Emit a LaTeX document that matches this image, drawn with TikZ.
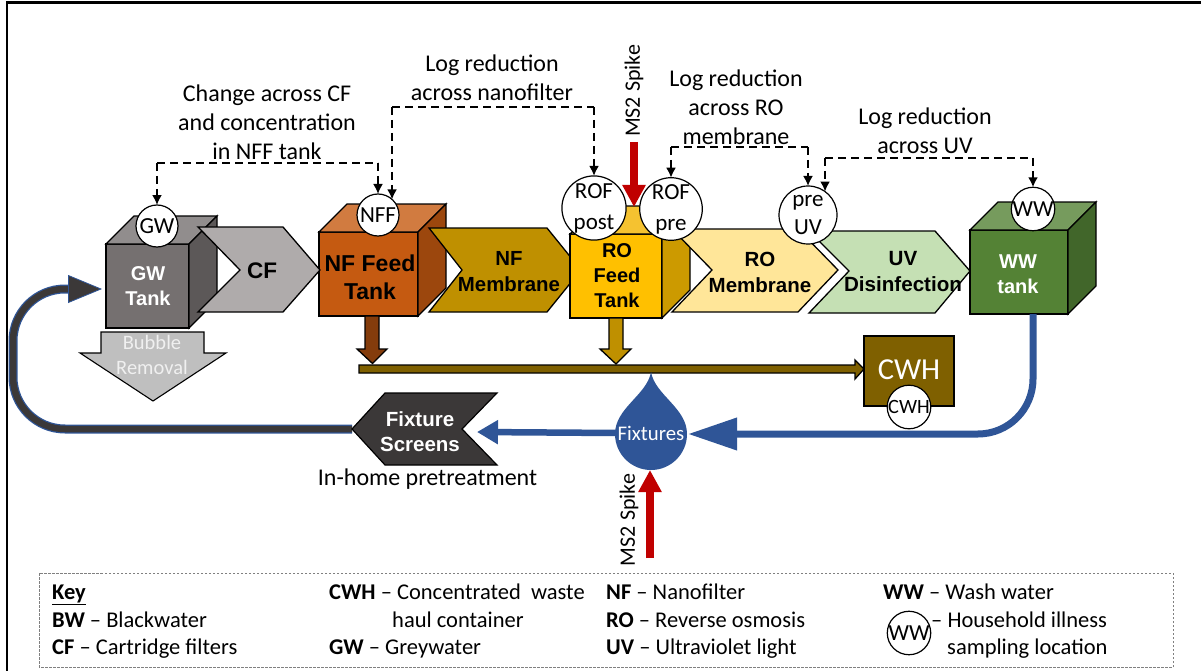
\documentclass[tikz,border=0pt]{standalone}
\usepackage{fontspec}
\setmainfont{Carlito}
\newfontfamily\arialf{Liberation Sans}
\usetikzlibrary{arrows.meta,calc}
\definecolor{pipeblue}{HTML}{2F5597}
\definecolor{spikered}{HTML}{C00000}
\definecolor{waste}{HTML}{7F6000}
\definecolor{darkg}{HTML}{3B3838}
\definecolor{gwfront}{HTML}{757070}
\definecolor{gwtop}{HTML}{918D8D}
\definecolor{gwside}{HTML}{5C5858}
\definecolor{cfcol}{HTML}{AFABAB}
\definecolor{nffront}{HTML}{C55A11}
\definecolor{nftop}{HTML}{D17B40}
\definecolor{nfside}{HTML}{9C470D}
\definecolor{nfmem}{HTML}{BF9000}
\definecolor{nfdrain}{HTML}{843C0C}
\definecolor{rofront}{HTML}{FFC000}
\definecolor{rotop}{HTML}{F5C230}
\definecolor{roside}{HTML}{CC9A00}
\definecolor{romem}{HTML}{FFE699}
\definecolor{uvcol}{HTML}{C5E0B4}
\definecolor{wwfront}{HTML}{548235}
\definecolor{wwtop}{HTML}{769B5D}
\definecolor{wwside}{HTML}{41662A}
\definecolor{bubble}{HTML}{BFBFBF}
\definecolor{bubbletext}{HTML}{F0F0F0}
\newcommand{\fs}[2]{\fontsize{#1}{#2}\selectfont}
\newcommand{\cubefaces}[3]{%
  \draw[edge,fill=#2] (#1.north west) -- ([shift={(28,-28)}]#1.north west) -- ([shift={(28,-28)}]#1.north east) -- (#1.north east) -- cycle;
  \draw[edge,fill=#3] (#1.north east) -- ([shift={(28,-28)}]#1.north east) -- ([shift={(28,-28)}]#1.south east) -- (#1.south east) -- cycle;
}
\tikzset{
  x=1pt,y=-1pt,
  edge/.style={draw=black,line width=1.3pt,line join=miter},
  front/.style={edge,inner sep=0pt,outer sep=0pt,align=center},
  boldlab/.style={inner sep=0pt,align=center,text=black},
  probe/.style={circle,draw=black,fill=white,line width=1.2pt,inner sep=0pt,outer sep=0pt,align=center,text=black},
  smallprobe/.style={probe,minimum size=42pt,font=\fs{23}{23}},
  bigprobe/.style={probe,minimum size=58pt,font=\fs{23}{31}},
  dashline/.style={draw=black,line width=1.9pt,dash pattern=on 8pt off 5pt,-{Latex[length=10pt,width=10pt]}},
  note/.style={inner sep=0pt,align=center,text=black,font=\fs{24}{29.2}},
  keytext/.style={inner sep=0pt,anchor=base west,text=black,font=\fs{22.5}{27}},
  pipe/.style={draw=pipeblue,line width=7pt},
  spike/.style={draw=spikered,line width=7.5pt,-{Triangle[length=22pt,width=22pt]}},
}
\begin{document}
\begin{tikzpicture}
\useasboundingbox (0,0) rectangle (1201,671);
\fill[white] (0,0) rectangle (1201,671);
\draw[black,line width=2.5pt] (1201,2.5) -- (7,2.5) -- (7,671);

% free ends
\coordinate (loopA) at (13,429);
\coordinate (loopB) at (13,289);
\coordinate (fxtip) at (352,429);
\coordinate (fxnotch) at (477,432);
\coordinate (spk1a) at (634,142);
\coordinate (spk1b) at (634,207);
\coordinate (spk2a) at (650,558);
\coordinate (pipeC) at (1033,434);
\coordinate (dropE) at (688,434);
\coordinate (dropW) at (617,433);
\coordinate (dropS) at (650,470);
\coordinate (gwin) at (102,289);
\coordinate (gwin2) at (70,289);

% loop from fixture screens to GW tank
\draw[draw=pipeblue,line width=9pt,rounded corners=52pt] (fxtip) -- (loopA) -- (loopB) -- (gwin2);
\draw[draw=darkg,line width=6.5pt,rounded corners=52pt,-{Triangle[length=34pt,width=28pt,fill=darkg,color=pipeblue,line width=0.8pt]}] (fxtip) -- (loopA) -- (loopB) -- (gwin);

% tanks and chevrons, back to front
\node[front,fill=gwfront,minimum width=83pt,minimum height=84pt] (gwt) at (147.5,286) {};
\cubefaces{gwt}{gwtop}{gwside}
\node[front,fill=nffront,minimum width=99pt,minimum height=84pt] (nft) at (368.5,274) {};
\cubefaces{nft}{nftop}{nfside}
\draw[edge,fill=cfcol] (198,227) -- (283,227) -- (320,270) -- (283,312) -- (198,312) -- (240,270) -- cycle;
\draw[edge,fill=nfmem] (429,228) -- (547,228) -- (581,270) -- (547,312) -- (429,312) -- (462,270) -- cycle;
\node[front,fill=rofront,minimum width=92pt,minimum height=84pt] (rot) at (616,276) {};
\cubefaces{rot}{rotop}{roside}
\draw[edge,fill=romem] (672,229) -- (798,229) -- (838,270) -- (798,312) -- (672,312) -- (712,270) -- cycle;
\draw[edge,fill=uvcol] (809,231) -- (935,231) -- (970,271) -- (935,313) -- (809,313) -- (849,271) -- cycle;
\node[front,fill=wwfront,minimum width=98pt,minimum height=84pt] (wwt) at (1019,272) {};
\cubefaces{wwt}{wwtop}{wwside}

% tank and chevron labels
\node[boldlab,text=white,font=\arialf\bfseries\fs{20}{25}] (gwl) at (148,286) {GW\\Tank};
\node[boldlab,font=\arialf\bfseries\fs{23}{28}] (nfl) at (370,277) {NF Feed\\Tank};
\node[boldlab,font=\arialf\bfseries\fs{20}{25}] (rol) at (617,276) {RO\\Feed\\Tank};
\node[boldlab,text=white,font=\arialf\bfseries\fs{20}{25}] (wwl) at (1018,274.5) {WW\\tank};
\node[boldlab,font=\arialf\bfseries\fs{22.5}{25}] (cfl) at (262,271) {CF};
\node[boldlab,font=\arialf\bfseries\fs{20.4}{26}] (nfml) at (509,272) {NF\\Membrane};
\node[boldlab,font=\arialf\bfseries\fs{20.5}{26}] (roml) at (760,272) {RO\\Membrane};
\node[boldlab,font=\arialf\bfseries\fs{20.6}{26}] (uvl) at (903,272) {UV\\Disinfection};

% drains and manifold
\draw[edge,fill=nfdrain] ([xshift=-3.5pt]nft.south) -- ++(0,33) -- ++(-8,0) -- ++(15.5,14.5) -- ++(14.5,-14.5) -- ++(-8,0) -- ++(0,-33) -- cycle;
\draw[edge,fill=nfmem] (rot.south) ++(-7,0) -- ++(0,31) -- ++(-9,0) -- ++(16,15) -- ++(15,-15) -- ++(-8,0) -- ++(0,-31) -- cycle;
\coordinate (bar) at (359,365);
\node[edge,fill=waste,inner sep=0pt,outer sep=0pt,minimum width=90pt,minimum height=70pt] (cwh) at (909,371) {};
\draw[edge,fill=waste] (bar) -- ++(496,0) -- ++(0,-5) -- (cwh.west |- 0,369) -- ++(-9,10) -- ++(0,-6) -- ++(-496,0) -- cycle;
\node[inner sep=0pt,text=white,font=\fs{30.5}{30}] (cwhl) at (909,370) {CWH};

% bubble removal
\draw[edge,fill=bubble,line width=1.1pt] ([shift={(-46.5,4)}]gwt.south) -- ++(103,0) -- ++(0,21) -- ++(22,0) -- ++(-73,48) -- ++(-73,-48) -- ++(21,0) -- cycle;
\node[inner sep=0pt,align=center,text=bubbletext,font=\fs{20.5}{25}] (bubl) at (152,355) {Bubble\\Removal};

% water distribution
\draw[pipe,rounded corners=55pt,-{Triangle[length=49pt,width=31pt]}] ([xshift=14pt]wwt.south) -- (pipeC) -- (dropE);
\draw[draw=pipeblue,line width=6.5pt,-{Triangle[length=21pt,width=23pt]}] (dropW) -- (fxnotch);
\fill[pipeblue] (651,372) .. controls (655,395) and (687,408) .. (687,434) arc[start angle=0,end angle=180,radius=36] .. controls (615,408) and (647,395) .. (651,372) -- cycle;
\node[inner sep=0pt,text=white,font=\fs{20.8}{22}] (fixl) at (651,433) {Fixtures};

% fixture screens
\draw[draw=black,line width=1.2pt,fill=darkg] (fxtip) -- (385,393) -- (497,393) -- (462,429) -- (497,465) -- (385,465) -- cycle;
\node[boldlab,text=white,font=\arialf\bfseries\fs{20.5}{25}] (fxl) at (420,431.5) {Fixture\\Screens};
\node[inner sep=0pt,text=black,font=\fs{24}{28}] (inh) at (427.5,479.5) {In-home pretreatment};

% spikes
\node[inner sep=0pt,rotate=90,text=black,font=\fs{22}{22}] (ms1) at (634,91) {MS2 Spike};
\node[inner sep=0pt,rotate=90,text=black,font=\fs{22}{22}] (ms2) at (629,520) {MS2 Spike};
\draw[spike] (spk2a) -- (dropS);

% sampling probes
\node[smallprobe] (gwp) at (157,226) {GW};
\node[smallprobe] (nffp) at (378,215) {NFF};
\node[bigprobe] (rofpost) at (594,208) {ROF\\post};
\node[bigprobe] (rofpre) at (671,209) {ROF\\pre};
\node[bigprobe,font=\fs{23}{28}] (preuv) at (808,215) {pre\\UV};
\node[smallprobe] (wwp) at (1033,209) {WW};
\node[smallprobe,font=\fs{20.3}{20}] (cwhp) at (909,407) {CWH};
\draw[spike] (spk1a) -- (spk1b);

% dashed measurement links
\draw[dashline] (gwp.north |- 0,163) -- (gwp.north);
\draw[dashline,-] (gwp.north |- 0,163) -- (nffp.north |- 0,163);
\draw[dashline] (nffp.north |- 0,163) -- (nffp.north);
\draw[dashline,-] (nffp.48 |- 0,107) -- (rofpost.north |- 0,107);
\draw[dashline] (nffp.48 |- 0,107) -- (nffp.48);
\draw[dashline] (rofpost.north |- 0,107) -- (rofpost.north);
\draw[dashline,-] (rofpre.north |- 0,147) -- (preuv.north |- 0,147);
\draw[dashline] (rofpre.north |- 0,147) -- (rofpre.north);
\draw[dashline] (preuv.north |- 0,147) -- (preuv.north);
\draw[dashline,-] (preuv.54 |- 0,158) -- (wwp.north |- 0,158);
\draw[dashline] (preuv.54 |- 0,158) -- (preuv.54);
\draw[dashline] (wwp.north |- 0,158) -- (wwp.north);

% notes
\node[note] (n1) at (267,122) {Change across CF\\and concentration\\in NFF tank};
\node[note] (n2) at (492,78) {Log reduction\\across nanofilter};
\node[note] (n3) at (736,107) {Log reduction\\across RO\\membrane};
\node[note] (n4) at (925,131) {Log reduction\\across UV};

% key
\draw[draw=gray,line width=0.7pt,dash pattern=on 2.5pt off 1.5pt] (39,573) rectangle (1173,667);
\node[keytext] (k1) at (52,599) {\underline{\textbf{Key}}};
\node[keytext] (k2) at (52,627) {\textbf{BW} – Blackwater};
\node[keytext] (k3) at (52,654) {\textbf{CF} – Cartridge filters};
\node[keytext] (k4) at (329,599) {\textbf{CWH} – Concentrated\ \ waste};
\node[keytext] (k5) at (392,627) {haul container};
\node[keytext] (k6) at (329,654) {\textbf{GW} – Greywater};
\node[keytext] (k7) at (606,599) {\textbf{NF} – Nanofilter};
\node[keytext] (k8) at (606,627) {\textbf{RO} – Reverse osmosis};
\node[keytext] (k9) at (606,654) {\textbf{UV} – Ultraviolet light};
\node[keytext] (k10) at (883,599) {\textbf{WW} – Wash water};
\node[smallprobe,font=\fs{23}{23}] (kp) at (909,633) {WW};
\node[keytext] (k11) at (931,627) {– Household illness};
\node[keytext] (k12) at (947,654) {sampling location};
\end{tikzpicture}
\end{document}
